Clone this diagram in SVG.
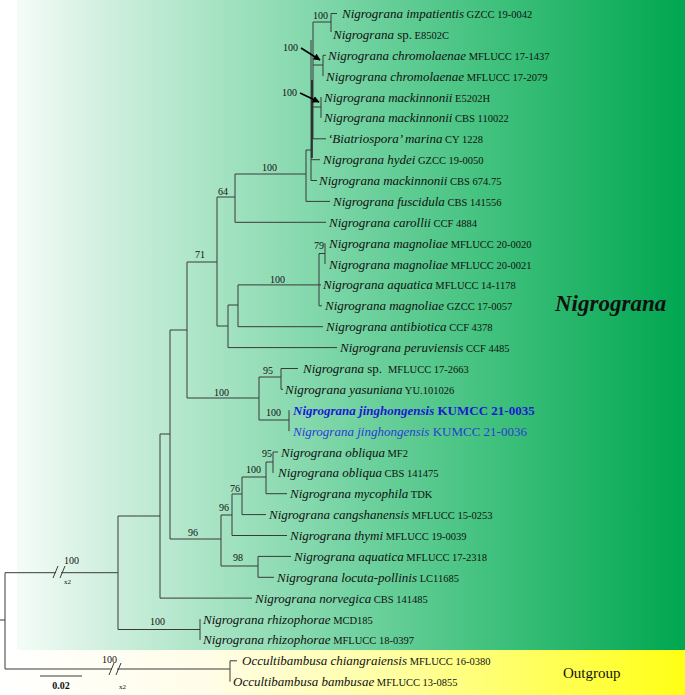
<svg xmlns="http://www.w3.org/2000/svg" width="685" height="695" viewBox="0 0 685 695">
<defs>
<linearGradient id="gG" x1="0" y1="0" x2="1" y2="0">
<stop offset="0" stop-color="#f5fcf8"/>
<stop offset="0.12" stop-color="#d3f0e1"/>
<stop offset="0.3" stop-color="#a6e3c3"/>
<stop offset="0.5" stop-color="#74d3a2"/>
<stop offset="0.7" stop-color="#43c27f"/>
<stop offset="1" stop-color="#00a650"/>
</linearGradient>
<linearGradient id="gY" x1="0" y1="0" x2="1" y2="0">
<stop offset="0" stop-color="#ffffff"/>
<stop offset="0.3" stop-color="#fffde8"/>
<stop offset="0.6" stop-color="#ffff9a"/>
<stop offset="1" stop-color="#ffff15"/>
</linearGradient>
<marker id="ah" viewBox="0 0 10 10" refX="9" refY="5" markerWidth="7" markerHeight="7" orient="auto" markerUnits="userSpaceOnUse">
<path d="M0,0 L10,5 L0,10 z" fill="#000"/>
</marker>
<style>
.br{stroke:#3a3a3a;stroke-width:1;fill:none}
.thk{stroke:#1a1a1a;stroke-width:1.5;fill:none}
.t{font-family:"Liberation Serif","Times New Roman",serif;fill:#111}
.n{font-size:13px;font-style:italic}
.r{font-size:13px}
.c{font-size:10.5px}
.s{font-family:"Liberation Serif","Times New Roman",serif;font-size:10px;fill:#111}
.x{font-family:"Liberation Serif","Times New Roman",serif;font-size:7px;fill:#111}
.b1{fill:#1a1ad0;font-weight:bold}
.b2{fill:#2b3bd8}
.arr{stroke:#000;stroke-width:1.6;fill:none}
</style>
</defs>
<rect x="0" y="0" width="685" height="695" fill="#ffffff"/>
<rect x="17" y="0" width="668" height="650" fill="url(#gG)"/>
<rect x="0" y="650" width="685" height="45" fill="url(#gY)"/>

<g id="connectors">
<path class="br" d="M331,13.5 V32 M331,13.5 H337 M313,22 H331"/>
<path class="br" d="M323,55.3 V76.1 M313,65 H323 M323,55.3 H326"/>
<path class="br" d="M321,97 V117.9 M313,107 H321"/>
<path class="br" d="M313,22 V138.8 M313,138.8 H326"/>
<path class="br" d="M311,40 V180.5 M311,159.7 H320 M311,180.5 H317"/>
<path class="thk" d="M312,80 V158"/>
<path class="br" d="M306,150 H311 M306,150 V201.4 M306,201.4 H330"/>
<path class="br" d="M235,174 H306 M235,174 V222.3 M235,222.3 H326"/>
<path class="br" d="M217,197 H235 M217,197 V326 M187,262 H217"/>
<path class="br" d="M325,243.2 V264.1 M319,253.5 H325 M319,253.5 V305.8 M319,305.8 H322 M319,284.9 H321"/>
<path class="br" d="M238,284.9 H319 M238,284.9 V326.7 M238,326.7 H323"/>
<path class="br" d="M228,305 H238 M228,305 V347.6 M228,347.6 H337 M217,326 H228"/>
<path class="br" d="M281,368.5 V389.3 M281,368.5 H298 M281,389.3 H283 M259,377 H281"/>
<path class="br" d="M289,410.2 V431.1 M259,420 H289 M259,377 V420 M187,398 H259"/>
<path class="br" d="M187,262 V398 M170,330 H187"/>
<path class="br" d="M273,452 V472.9 M273,452 H278 M266,462 H273 M266,462 V493.7 M266,493.7 H287"/>
<path class="br" d="M242,477 H266 M242,477 V514.6 M242,514.6 H266"/>
<path class="br" d="M232,494 H242 M232,494 V535.5 M232,535.5 H287"/>
<path class="br" d="M221,515 H232 M221,515 V566 M221,566 H258"/>
<path class="br" d="M258,556.4 V577.3 M258,556.4 H291 M258,577.3 H274"/>
<path class="br" d="M170,539 H221 M170,330 V539 M160,434 H170"/>
<path class="br" d="M160,434 V598.1 M160,598.1 H252 M118,516 H160"/>
<path class="br" d="M118,516 V629.5 M118,629.5 H200 M200,619 V639.9"/>
<path class="br" d="M0,620 H5 M5,572.7 V669 M5,572.7 H56 M61,572.7 H118"/>
<path class="br" d="M53,578 L58,566 M60,578 L65,566"/>
<path class="br" d="M5,669 H112 M117,669 H230 M109,675 L114,663 M116,675 L121,663"/>
<path class="br" d="M230,660.8 V681.7 M230,660.8 H237"/>
<line class="arr" x1="301" y1="48" x2="320" y2="60" marker-end="url(#ah)"/>
<line class="arr" x1="300" y1="93" x2="319" y2="102" marker-end="url(#ah)"/>
<path class="br" d="M40,676 H82"/>
</g>

<g id="supports">
<text class="s" x="313" y="18.5">100</text>
<text class="s" x="283" y="50.5">100</text>
<text class="s" x="282" y="95.5">100</text>
<text class="s" x="262" y="170.5">100</text>
<text class="s" x="218" y="194.5">64</text>
<text class="s" x="195" y="257.5">71</text>
<text class="s" x="314" y="248.5">79</text>
<text class="s" x="270" y="282.5">100</text>
<text class="s" x="263" y="373.5">95</text>
<text class="s" x="214" y="395.5">100</text>
<text class="s" x="266" y="415.5">100</text>
<text class="s" x="262" y="456.5">95</text>
<text class="s" x="246" y="472.5">100</text>
<text class="s" x="230" y="491.5">76</text>
<text class="s" x="219" y="510.5">96</text>
<text class="s" x="188" y="535.5">96</text>
<text class="s" x="233" y="560.5">98</text>
<text class="s" x="150" y="624.5">100</text>
<text class="s" x="64" y="563.5">100</text>
<text class="x" x="64" y="584">x2</text>
<text class="s" x="102" y="662.5">100</text>
<text class="x" x="119" y="689">x2</text>
<text class="s" x="61" y="689" text-anchor="middle" font-weight="bold">0.02</text>
</g>

<g id="tips">
<g id="tip1"><text class="t" x="342" y="18"><tspan class="n">Nigrograna impatientis</tspan><tspan class="c"> GZCC 19-0042</tspan></text></g>
<g id="tip2"><text class="t" x="333" y="38.9"><tspan class="n">Nigrograna</tspan><tspan class="r"> sp.</tspan><tspan class="c"> E8502C</tspan></text></g>
<g id="tip3"><text class="t" x="328" y="59.8"><tspan class="n">Nigrograna chromolaenae</tspan><tspan class="c"> MFLUCC 17-1437</tspan></text></g>
<g id="tip4"><text class="t" x="326" y="80.6"><tspan class="n">Nigrograna chromolaenae</tspan><tspan class="c"> MFLUCC 17-2079</tspan></text></g>
<g id="tip5"><text class="t" x="324" y="101.5"><tspan class="n">Nigrograna mackinnonii</tspan><tspan class="c"> E5202H</tspan></text></g>
<g id="tip6"><text class="t" x="324" y="122.4"><tspan class="n">Nigrograna mackinnonii</tspan><tspan class="c"> CBS 110022</tspan></text></g>
<g id="tip7"><text class="t" x="328" y="143.3"><tspan class="n">‘Biatriospora’ marina</tspan><tspan class="c"> CY 1228</tspan></text></g>
<g id="tip8"><text class="t" x="323" y="164.2"><tspan class="n">Nigrograna hydei</tspan><tspan class="c"> GZCC 19-0050</tspan></text></g>
<g id="tip9"><text class="t" x="319" y="185"><tspan class="n">Nigrograna mackinnonii</tspan><tspan class="c"> CBS 674.75</tspan></text></g>
<g id="tip10"><text class="t" x="333" y="205.9"><tspan class="n">Nigrograna fuscidula</tspan><tspan class="c"> CBS 141556</tspan></text></g>
<g id="tip11"><text class="t" x="329" y="226.8"><tspan class="n">Nigrograna carollii</tspan><tspan class="c"> CCF 4884</tspan></text></g>
<g id="tip12"><text class="t" x="329" y="247.7"><tspan class="n">Nigrograna magnoliae</tspan><tspan class="c"> MFLUCC 20-0020</tspan></text></g>
<g id="tip13"><text class="t" x="329" y="268.6"><tspan class="n">Nigrograna magnoliae</tspan><tspan class="c"> MFLUCC 20-0021</tspan></text></g>
<g id="tip14"><text class="t" x="323" y="289.4"><tspan class="n">Nigrograna aquatica</tspan><tspan class="c"> MFLUCC 14-1178</tspan></text></g>
<g id="tip15"><text class="t" x="325" y="310.3"><tspan class="n">Nigrograna magnoliae</tspan><tspan class="c"> GZCC 17-0057</tspan></text></g>
<g id="tip16"><text class="t" x="326" y="331.2"><tspan class="n">Nigrograna antibiotica</tspan><tspan class="c"> CCF 4378</tspan></text></g>
<g id="tip17"><text class="t" x="340" y="352.1"><tspan class="n">Nigrograna peruviensis</tspan><tspan class="c"> CCF 4485</tspan></text></g>
<g id="tip18"><text class="t" x="303" y="373"><tspan class="n">Nigrograna</tspan><tspan class="r"> sp.</tspan><tspan class="c" dx="6">MFLUCC 17-2663</tspan></text></g>
<g id="tip19"><text class="t" x="285" y="393.8"><tspan class="n">Nigrograna yasuniana</tspan><tspan class="c"> YU.101026</tspan></text></g>
<g id="tip20"><text class="t b1" x="293" y="414.7"><tspan class="n">Nigrograna jinghongensis</tspan><tspan class="r"> KUMCC 21-0035</tspan></text></g>
<g id="tip21"><text class="t b2" x="293" y="435.6"><tspan class="n">Nigrograna jinghongensis</tspan><tspan class="r"> KUMCC 21-0036</tspan></text></g>
<g id="tip22"><text class="t" x="281" y="456.5"><tspan class="n">Nigrograna obliqua</tspan><tspan class="c"> MF2</tspan></text></g>
<g id="tip23"><text class="t" x="278" y="477.4"><tspan class="n">Nigrograna obliqua</tspan><tspan class="c"> CBS 141475</tspan></text></g>
<g id="tip24"><text class="t" x="290" y="498.2"><tspan class="n">Nigrograna mycophila</tspan><tspan class="c"> TDK</tspan></text></g>
<g id="tip25"><text class="t" x="269" y="519.1"><tspan class="n">Nigrograna cangshanensis</tspan><tspan class="c"> MFLUCC 15-0253</tspan></text></g>
<g id="tip26"><text class="t" x="290" y="540"><tspan class="n">Nigrograna thymi</tspan><tspan class="c"> MFLUCC 19-0039</tspan></text></g>
<g id="tip27"><text class="t" x="294" y="560.9"><tspan class="n">Nigrograna aquatica</tspan><tspan class="c"> MFLUCC 17-2318</tspan></text></g>
<g id="tip28"><text class="t" x="277" y="581.8"><tspan class="n">Nigrograna locuta-pollinis</tspan><tspan class="c"> LC11685</tspan></text></g>
<g id="tip29"><text class="t" x="255" y="602.6"><tspan class="n">Nigrograna norvegica</tspan><tspan class="c"> CBS 141485</tspan></text></g>
<g id="tip30"><text class="t" x="203" y="623.5"><tspan class="n">Nigrograna rhizophorae</tspan><tspan class="c"> MCD185</tspan></text></g>
<g id="tip31"><text class="t" x="203" y="644.4"><tspan class="n">Nigrograna rhizophorae</tspan><tspan class="c"> MFLUCC 18-0397</tspan></text></g>
<g id="tip32"><text class="t" x="242" y="665.3"><tspan class="n">Occultibambusa chiangraiensis</tspan><tspan class="c"> MFLUCC 16-0380</tspan></text></g>
<g id="tip33"><text class="t" x="233" y="686.2"><tspan class="n">Occultibambusa bambusae</tspan><tspan class="c"> MFLUCC 13-0855</tspan></text></g>
</g>

<g id="group-labels">
<text class="t" x="555" y="311" font-size="23" font-weight="bold" font-style="italic">Nigrograna</text>
<text class="t" x="563" y="678" font-size="15">Outgroup</text>
</g>
</svg>
